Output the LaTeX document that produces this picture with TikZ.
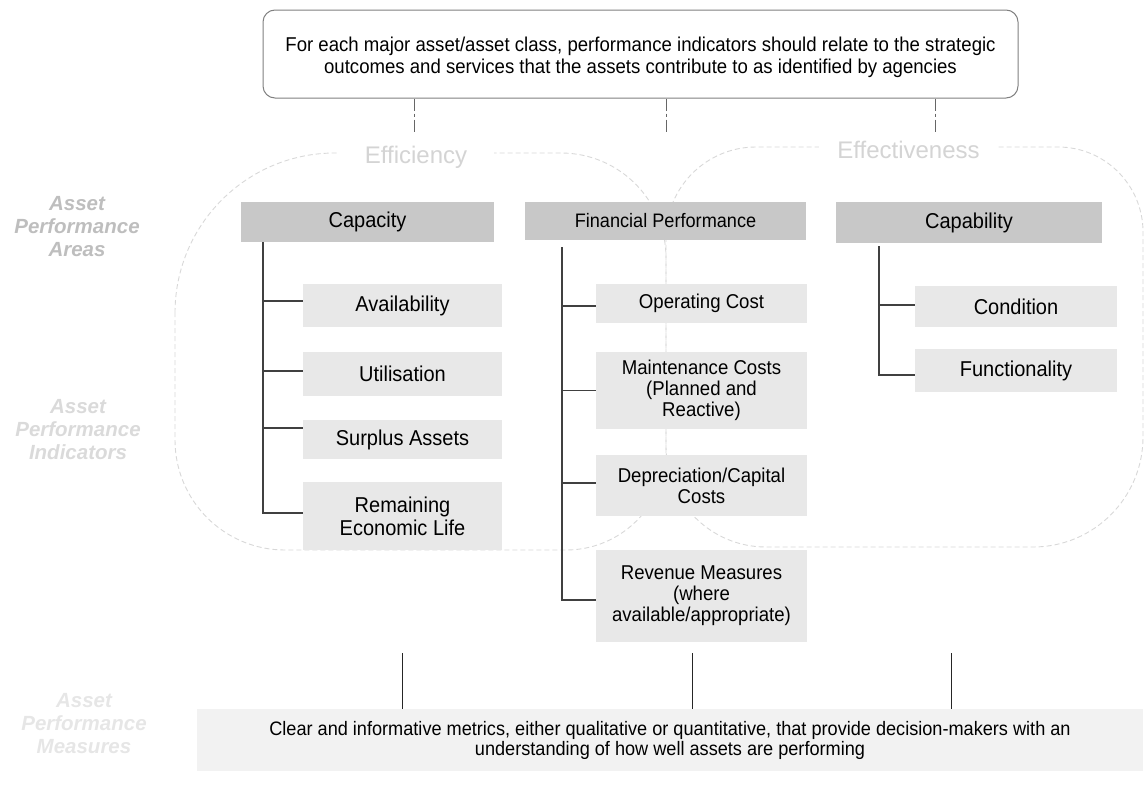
\documentclass[tikz,border=0pt]{standalone}
\usepackage{fontspec}
\setmainfont{Liberation Sans}[FakeStretch=0.93]
\newfontfamily\lblfont{Liberation Sans}
\definecolor{areafill}{HTML}{C8C8C8}
\definecolor{indfill}{HTML}{E8E8E8}
\definecolor{botfill}{HTML}{F2F2F2}
\definecolor{regcol}{HTML}{D8D8D8}
\definecolor{titlecol}{HTML}{D4D4D4}
\definecolor{lblA}{HTML}{BEBEBE}
\definecolor{lblB}{HTML}{DADADA}
\definecolor{lblC}{HTML}{E6E6E6}
\begin{document}
\begin{tikzpicture}[x=1pt,y=-1pt,
  tbox/.style={draw=black!50, line width=1pt, rounded corners=12pt, minimum width=755pt, minimum height=88pt, inner sep=0pt},
  ttext/.style={align=center, inner sep=0pt, font=\fontsize{20}{22}\selectfont},
  areabox/.style={fill=areafill, inner sep=0pt, font=\fontsize{21.5}{23}\selectfont},
  indbox/.style={fill=indfill, align=center, inner sep=0pt, font=\fontsize{21.5}{23}\selectfont},
  finbox/.style={indbox, minimum width=211pt, font=\fontsize{20}{21}\selectfont},
  botbox/.style={fill=botfill, align=center, inner sep=0pt, font=\fontsize{19.5}{20}\selectfont},
  region/.style={draw=regcol, dash pattern=on 5pt off 3pt, line width=0.9pt},
  rtitle/.style={fill=white, text=titlecol, inner ysep=0pt, font=\lblfont\fontsize{24}{24}\selectfont},
  sidelbl/.style={align=center, inner sep=0pt, font=\lblfont\bfseries\itshape\fontsize{20.5}{23}\selectfont},
  tree/.style={draw=black!75, line width=1.1pt},
  ddash/.style={draw=black!60, line width=0.8pt, dash pattern=on 12pt off 3pt on 3pt off 3pt},
  vline/.style={draw=black!85, line width=0.9pt}]
\useasboundingbox (0,0) rectangle (1145,787);

% dashed regions (angles measured with y pointing down)
\draw[region] (175,313) arc[start angle=180, end angle=270, radius=160]
  -- (561,153) arc[start angle=270, end angle=360, radius=105]
  -- (666,450) arc[start angle=0, end angle=90, radius=100]
  -- (285,550) arc[start angle=90, end angle=180, radius=110] -- cycle;
\draw[region] (666,237) arc[start angle=180, end angle=270, radius=90]
  -- (1058,147) arc[start angle=270, end angle=360, radius=85]
  -- (1143,437) arc[start angle=0, end angle=90, radius=110]
  -- (766,547) arc[start angle=90, end angle=180, radius=100] -- cycle;

\node[rtitle, inner xsep=27pt] (eff) at (416,157) {Efficiency};
\node[rtitle, inner xsep=18pt] (effv) at (908.5,150) {Effectiveness};

% top box
\node[tbox] (top) at (640.5,54) {};
\node[ttext] (toptxt) at (640.5,57) {For each major asset/asset class, performance indicators should relate to the strategic\\outcomes and services that the assets contribute to as identified by agencies};
\coordinate (d1) at (414,132);
\coordinate (d2) at (666,132);
\coordinate (d3) at (935,132);
\draw[ddash] (top.south -| d1) -- (d1);
\draw[ddash] (top.south -| d2) -- (d2);
\draw[ddash] (top.south -| d3) -- (d3);

% side labels
\node[sidelbl, text=lblA] (lA) at (77,227) {Asset\\Performance\\Areas};
\node[sidelbl, text=lblB] (lB) at (78,430) {Asset\\Performance\\Indicators};
\node[sidelbl, text=lblC] (lC) at (84,724) {Asset\\Performance\\Measures};

% area boxes
\node[areabox, minimum width=253pt, minimum height=40pt] (cap) at (367.5,222) {Capacity};
\node[areabox, minimum width=281pt, minimum height=38pt, font=\fontsize{19.5}{20}\selectfont] (fin) at (665.5,221) {Financial Performance};
\node[areabox, minimum width=266pt, minimum height=41pt] (cab) at (969,222.5) {Capability};

% capacity indicators
\node[indbox, minimum width=199pt, minimum height=43pt] (avail) at (402.5,305.5) {Availability};
\node[indbox, minimum width=199pt, minimum height=44pt] (util) at (402.5,374) {Utilisation};
\node[indbox, minimum width=199pt, minimum height=39pt] (surp) at (402.5,439.5) {Surplus Assets};
\node[indbox, minimum width=199pt, minimum height=68pt] (rem) at (402.5,516) {Remaining\\Economic Life};

% financial indicators
\node[finbox, minimum height=39pt] (opc) at (701.5,303.5) {Operating Cost};
\node[finbox, minimum height=77pt] (mnt) at (701.5,390.5) {Maintenance Costs\\(Planned and\\Reactive)};
\node[finbox, minimum height=61pt] (dep) at (701.5,485.5) {Depreciation/Capital\\Costs};
\node[finbox, minimum height=92pt] (rev) at (701.5,596) {Revenue Measures\\(where\\available/appropriate)};

% capability indicators
\node[indbox, minimum width=202pt, minimum height=41pt] (cond) at (1016,306.5) {Condition};
\node[indbox, minimum width=202pt, minimum height=43pt] (func) at (1016,370.5) {Functionality};

% trees
\coordinate (t1) at (263,242);
\draw[tree] (t1) |- ([yshift=3pt]rem.west);
\draw[tree] ([yshift=4.5pt]avail.west) -- ([yshift=4.5pt]avail.west -| t1);
\draw[tree] ([yshift=3pt]util.west) -- ([yshift=3pt]util.west -| t1);
\draw[tree] ([yshift=11.5pt]surp.west) -- ([yshift=11.5pt]surp.west -| t1);

\coordinate (t2) at (562,247);
\draw[tree] (t2) |- ([yshift=-4pt]rev.west);
\draw[tree] ([yshift=-2.5pt]opc.west) -- ([yshift=-2.5pt]opc.west -| t2);
\draw[tree] (mnt.west) -- (mnt.west -| t2);
\draw[tree] ([yshift=2.5pt]dep.west) -- ([yshift=2.5pt]dep.west -| t2);

\coordinate (t3) at (879,246);
\draw[tree] (t3) |- ([yshift=-4.5pt]func.west);
\draw[tree] ([yshift=1.5pt]cond.west) -- ([yshift=1.5pt]cond.west -| t3);

% bottom box
\node[botbox, minimum width=946pt, minimum height=62pt] (bot) at (670,740) {Clear and informative metrics, either qualitative or quantitative, that provide decision-makers with an\\understanding of how well assets are performing};
\coordinate (b1) at (402,653);
\coordinate (b2) at (692,653);
\coordinate (b3) at (951,653);
\draw[vline] (b1) -- (b1 |- bot.north);
\draw[vline] (b2) -- (b2 |- bot.north);
\draw[vline] (b3) -- (b3 |- bot.north);
\end{tikzpicture}
\end{document}
